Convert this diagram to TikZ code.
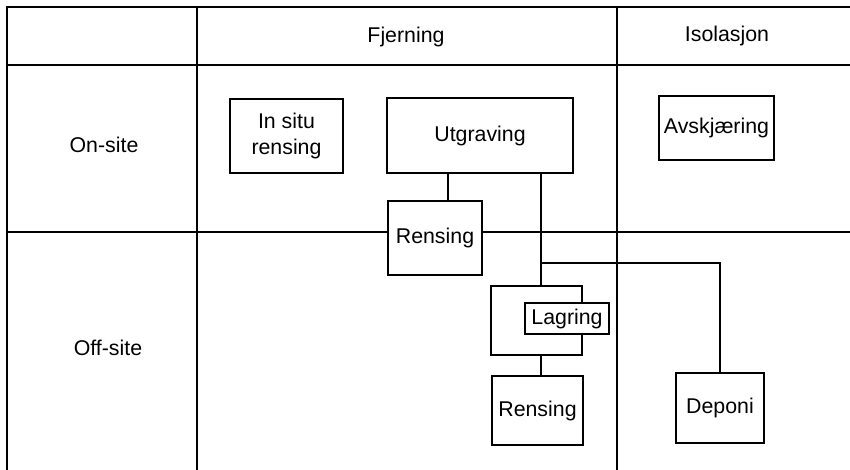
\documentclass[tikz,border=0pt]{standalone}
\usepackage{fontspec}
\setmainfont{Liberation Sans}

\tikzset{every picture/.style={line width=1pt}}
\tikzset{
  label/.style={inner sep=0.75pt, font=\fontsize{16}{19}\selectfont, align=center},
  boks/.style={draw, fill=white, inner sep=0pt, font=\fontsize{16}{19}\selectfont, align=center}
}

\begin{document}
\begin{tikzpicture}[x=0.75pt,y=0.75pt,yscale=-1,xscale=1]
\useasboundingbox (0,0) rectangle (850,470);

%Table lines
\draw (850,7) -- (7,7) -- (7,470) ;
\draw (7,65) -- (850,65) ;
\draw (7,232) -- (850,232) ;
\draw (197,7) -- (197,470) ;
\draw (617,7) -- (617,470) ;

% Text Node
\node (fjern) at (406,37) [label] {Fjerning};
% Text Node
\node (isol) at (727,36) [label] {Isolasjon};
% Text Node
\node (onsite) at (104,145) [label] {On-site};
% Text Node
\node (offsite) at (108,348) [label] {Off-site};

%Shape: Rectangle
\node (insitu) at (286.5,136) [boks, minimum width=84.75pt, minimum height=55.5pt] {In situ\\rensing};
%Shape: Rectangle
\node (utgr) at (480,135.5) [boks, minimum width=139.5pt, minimum height=56.25pt] {Utgraving};
%Shape: Rectangle
\node (rens1) at (435,238) [boks, minimum width=70.5pt, minimum height=55.5pt] {Rensing};
%Shape: Rectangle
\node (lager) at (536.5,320.5) [boks, minimum width=68.25pt, minimum height=51.75pt] {};
%Shape: Rectangle
\node (lagring) at (567,318.5) [boks, minimum width=63pt, minimum height=23.25pt] {Lagring};
%Shape: Rectangle
\node (rens2) at (537.5,410.5) [boks, minimum width=68.25pt, minimum height=51.75pt] {Rensing};
%Shape: Rectangle
\node (avskj) at (716.5,128) [boks, minimum width=86.25pt, minimum height=48pt] {Avskjæring};
%Shape: Rectangle
\node (deponi) at (720,408) [boks, minimum width=66pt, minimum height=52.5pt] {Deponi};

%Connectors
\coordinate (j1) at (448,0);
\coordinate (trunk) at (541,0);
\coordinate (branch) at (541,263);
\draw (utgr.south -| j1) -- (rens1.north -| j1) ;
\draw (utgr.south -| trunk) -- (lager.north -| trunk) ;
\draw (branch) -| (deponi.north) ;
\draw (lager.south -| trunk) -- (rens2.north -| trunk) ;

\end{tikzpicture}
\end{document}
